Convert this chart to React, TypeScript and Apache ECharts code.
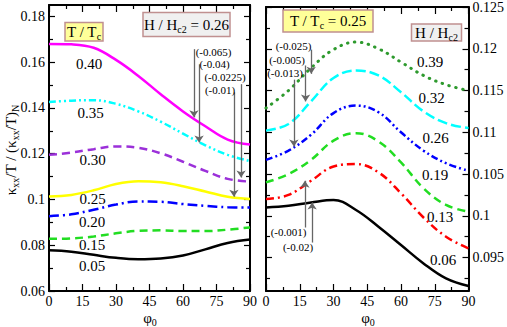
import React, { useEffect, useRef } from "react";
import * as echarts from "echarts";

// ---------- data ----------
const phi = [0, 10, 20, 30, 40, 50, 60, 70, 80, 90];

// Left panel: H/Hc2 = 0.26, curves for T/Tc
const leftT040 = [0.168, 0.1678, 0.1663, 0.161, 0.154, 0.146, 0.1385, 0.132, 0.1262, 0.124];
const leftT035 = [0.1426, 0.1432, 0.1434, 0.1418, 0.1385, 0.134, 0.1288, 0.1237, 0.1195, 0.1168];
const leftT030 = [0.1195, 0.1205, 0.122, 0.1232, 0.1226, 0.1202, 0.1165, 0.1125, 0.109, 0.1078];
const leftT025 = [0.1013, 0.102, 0.104, 0.1068, 0.108, 0.1075, 0.1058, 0.1035, 0.1012, 0.1002];
const leftT020 = [0.0927, 0.0935, 0.0955, 0.0978, 0.0991, 0.099, 0.098, 0.0972, 0.0966, 0.0965];
const leftT015 = [0.0828, 0.083, 0.0838, 0.0852, 0.0863, 0.0865, 0.0862, 0.0862, 0.0868, 0.0878];
const leftT005 = [0.0778, 0.0772, 0.0758, 0.0745, 0.0739, 0.0742, 0.0755, 0.0782, 0.081, 0.0825];
const leftCurveLabels = ["0.40", "0.35", "0.30", "0.25", "0.20", "0.15", "0.05"];

// Right panel: T/Tc = 0.25, curves for H/Hc2
const rightH039 = [0.1129, 0.115, 0.1177, 0.1199, 0.1208, 0.12, 0.1184, 0.1168, 0.1157, 0.115];
const rightH032 = [0.1102, 0.111, 0.1137, 0.1165, 0.1174, 0.1168, 0.1148, 0.1125, 0.1111, 0.1105];
const rightH026 = [0.1067, 0.1078, 0.1097, 0.1123, 0.1132, 0.1124, 0.11, 0.1078, 0.1063, 0.1054];
const rightH019 = [0.104, 0.105, 0.1067, 0.109, 0.1099, 0.1089, 0.1064, 0.1033, 0.1013, 0.1005];
const rightH013 = [0.102, 0.1025, 0.1042, 0.1059, 0.1062, 0.1052, 0.1027, 0.0998, 0.0975, 0.0961];
const rightH006 = [0.101, 0.1012, 0.1016, 0.1019, 0.1007, 0.0987, 0.0965, 0.0943, 0.0925, 0.0916];
const rightCurveLabels = ["0.39", "0.32", "0.26", "0.19", "0.13", "0.06"];

// tick values
const leftMajorTicks = [0.06, 0.08, 0.1, 0.12, 0.14, 0.16, 0.18];
const leftMinorTicks = [0.07, 0.09, 0.11, 0.13, 0.15, 0.17];
const rightMajorTicks = [0.095, 0.1, 0.105, 0.11, 0.115, 0.12, 0.125];
const rightMinorTicks = [0.0925, 0.0975, 0.1025, 0.1075, 0.1125, 0.1175, 0.1225];

// annotation arrows (phi, from value, to value, text)
const leftArrowPhi = [64.9, 67.2, 86, 82.8];
const leftArrowFrom = [0.1657, 0.1591, 0.1504, 0.1468];
const leftArrowTo = [0.1359, 0.1249, 0.1096, 0.1012];
const leftArrowText = ["(-0.065)", "(-0.04)", "(-0.0225)", "(-0.01)"];

const rightArrowPhi = [20.1, 17.6, 12.4, 17.3, 20.5];
const rightArrowFrom = [0.1199, 0.118, 0.1163, 0.0986, 0.0968];
const rightArrowTo = [0.117, 0.1137, 0.1083, 0.1042, 0.1016];
const rightArrowText = ["(-0.025)", "(-0.005)", "(-0.013)", "(-0.001)", "(-0.02)"];

// ---------- styling / layout ----------
const FONT = "Liberation Serif";
const leftLabelPos = [
  [89, 64], [90.5, 113], [92.5, 160], [92.5, 198.5], [92, 222], [92, 245], [92, 266],
];
const rightLabelPos = [
  [430, 62], [431.7, 97.5], [435.7, 137.5], [435, 175], [440, 216.7], [443, 260],
];
const leftArrowTextPos = [[213.5, 51.7], [214.5, 64], [225, 76.7], [220, 90]];
const rightArrowTextPos = [[293.5, 45.7], [287, 60], [285, 73.3], [288.5, 231.7], [298, 247.3]];

const leftStyles = [
  { color: "#ff00ff", type: "solid" },
  { color: "#00ffff", type: [7, 3, 2, 3, 2, 3] },
  { color: "#9b30d9", type: [8, 5] },
  { color: "#ffff00", type: "solid" },
  { color: "#0000ff", type: [10, 4, 2, 4] },
  { color: "#22dd22", type: [8, 5] },
  { color: "#000000", type: "solid" },
];
const rightStyles = [
  { color: "#2e9a2e", type: [0.5, 6.5], cap: "round", width: 3 },
  { color: "#00ffff", type: [10, 4] },
  { color: "#0000ff", type: [7, 3, 2, 3, 2, 3] },
  { color: "#22dd22", type: [8, 5] },
  { color: "#ff0000", type: [8, 4, 2, 4] },
  { color: "#000000", type: "solid" },
];

const rich = {
  m: { fontFamily: FONT, fontSize: 15, color: "#000" },
  t: { fontFamily: FONT, fontSize: 14, color: "#000" },
  g: { fontFamily: FONT, fontSize: 11, color: "#444" },
  s: { fontFamily: FONT, fontSize: 10, color: "#000", padding: [9, 0, 0, 0] },
};

function xAxes(grid: number) {
  const base: any = {
    type: "value",
    gridIndex: grid,
    min: 0,
    max: 90,
    interval: 15,
    splitLine: { show: false },
    axisLine: { onZero: false, lineStyle: { color: "#000", width: 2 } },
    axisTick: { inside: true, length: 7, lineStyle: { color: "#000", width: 1.2 } },
    minorTick: { show: true, splitNumber: 2, length: 4, lineStyle: { color: "#000", width: 1.2 } },
    minorSplitLine: { show: false },
  };
  return [
    {
      ...base,
      position: "bottom",
      axisLabel: {
        color: "#000",
        fontSize: 14,
        fontFamily: FONT,
        margin: 3,
        formatter: (v: number) => `{t|${v}}`,
        rich,
      },
    },
    { ...base, position: "top", axisLabel: { show: false } },
  ];
}

function yAxes(grid: number, min: number, max: number, majors: number[], minors: number[], labelSide: string) {
  const mk = (position: string, values: number[], len: number, line: boolean, label: boolean) => ({
    type: "value",
    gridIndex: grid,
    min,
    max,
    position,
    splitLine: { show: false },
    axisLine: { show: line, onZero: false, lineStyle: { color: "#000", width: 2 } },
    axisTick: { show: true, inside: true, length: len, customValues: values, lineStyle: { color: "#000", width: 1.2 } },
    axisLabel: label
      ? {
          show: true,
          customValues: values,
          color: "#000",
          fontSize: 14,
          fontFamily: FONT,
          margin: 4,
          formatter: (v: number) => `{t|${v}}`,
          rich,
        }
      : { show: false },
  });
  return [
    mk("left", majors, 6, true, labelSide === "left"),
    mk("left", minors, 4, false, false),
    mk("right", majors, 6, true, labelSide === "right"),
    mk("right", minors, 4, false, false),
  ];
}

function arrowLines(phis: number[], from: number[], to: number[]) {
  return phis.map((p, i) => [{ coord: [p, from[i]] }, { coord: [p, to[i]] }]);
}

function richText(text: string, x: number, y: number, extra: any = {}) {
  return {
    type: "text",
    x,
    y,
    z: 12,
    ...extra,
    style: { text, rich, align: "center", verticalAlign: "middle" },
  };
}

function boxGraphic(x: number, y: number, w: number, h: number, fill: string, text: string) {
  return [
    {
      type: "rect",
      shape: { x, y, width: w, height: h },
      style: { fill, stroke: "#c09090", lineWidth: 1.5 },
      z: 10,
    },
    richText(text, x + w / 2, y + h / 2),
  ];
}

export default function App() {
  const ref = useRef<HTMLDivElement>(null);
  useEffect(() => {
    if (!ref.current) return;
    const chart = echarts.init(ref.current, undefined, { renderer: "svg" });

    const leftData = [leftT040, leftT035, leftT030, leftT025, leftT020, leftT015, leftT005];
    const rightData = [rightH039, rightH032, rightH026, rightH019, rightH013, rightH006];

    const markStyle = {
      silent: true,
      symbol: ["none", "arrow"],
      symbolSize: 7,
      label: { show: false },
      lineStyle: { color: "#666", width: 1.3, type: "solid" },
      emphasis: { disabled: true },
    };

    const series: any[] = [];
    leftData.forEach((vals, i) => {
      const st: any = leftStyles[i];
      series.push({
        type: "line",
        xAxisIndex: 0,
        yAxisIndex: 0,
        data: phi.map((p, k) => [p, vals[k]]),
        smooth: 0.4,
        showSymbol: false,
        lineStyle: { color: st.color, type: st.type, width: st.width || 2.5, cap: st.cap || "butt" },
        z: 3,
        ...(i === leftData.length - 1
          ? { markLine: { ...markStyle, data: arrowLines(leftArrowPhi, leftArrowFrom, leftArrowTo) } }
          : {}),
      });
    });
    rightData.forEach((vals, i) => {
      const st: any = rightStyles[i];
      series.push({
        type: "line",
        xAxisIndex: 2,
        yAxisIndex: 4,
        data: phi.map((p, k) => [p, vals[k]]),
        smooth: 0.4,
        showSymbol: false,
        lineStyle: { color: st.color, type: st.type, width: st.width || 2.5, cap: st.cap || "butt" },
        z: 3,
        ...(i === rightData.length - 1
          ? { markLine: { ...markStyle, data: arrowLines(rightArrowPhi, rightArrowFrom, rightArrowTo) } }
          : {}),
      });
    });

    const graphic: any[] = [
      ...leftCurveLabels.map((t, i) => richText(`{m|${t}}`, leftLabelPos[i][0], leftLabelPos[i][1])),
      ...rightCurveLabels.map((t, i) => richText(`{m|${t}}`, rightLabelPos[i][0], rightLabelPos[i][1])),
      ...leftArrowText.map((t, i) => richText(`{g|${t}}`, leftArrowTextPos[i][0], leftArrowTextPos[i][1])),
      ...rightArrowText.map((t, i) => richText(`{g|${t}}`, rightArrowTextPos[i][0], rightArrowTextPos[i][1])),
      ...boxGraphic(65, 22.5, 38, 18.5, "#ffff99", "{m|T / T}{s|c}"),
      ...boxGraphic(143, 12.5, 87, 24, "#f0f0f0", "{m|H / H}{s|c2}{m| = 0.26}"),
      ...boxGraphic(283, 10, 90, 22, "#ffff99", "{m|T / T}{s|c}{m| = 0.25}"),
      ...boxGraphic(411.5, 24, 50, 17, "#f0f0f0", "{m|H / H}{s|c2}"),
      richText("{m|φ}{s|0}", 150, 318),
      richText("{m|φ}{s|0}", 368, 318),
      richText("{m|κ}{s|xx}{m|/T / (κ}{s|xx}{m|/T)}{s|N}", 11, 150, { rotation: Math.PI / 2 }),
    ];

    chart.setOption({
      animation: false,
      backgroundColor: "#ffffff",
      textStyle: { fontFamily: FONT },
      grid: [
        { left: 49, top: 5, width: 201, height: 286 },
        { left: 266, top: 5, width: 205, height: 286 },
      ],
      xAxis: [...xAxes(0), ...xAxes(1)],
      yAxis: [
        ...yAxes(0, 0.06, 0.185, leftMajorTicks, leftMinorTicks, "left"),
        ...yAxes(1, 0.091, 0.125, rightMajorTicks, rightMinorTicks, "right"),
      ],
      series,
      graphic,
    });
    return () => chart.dispose();
  }, []);
  return (
    <div
      ref={ref}
      style={{ position: "fixed", left: 0, top: 0, width: 507, height: 327, background: "#fff" }}
    />
  );
}
